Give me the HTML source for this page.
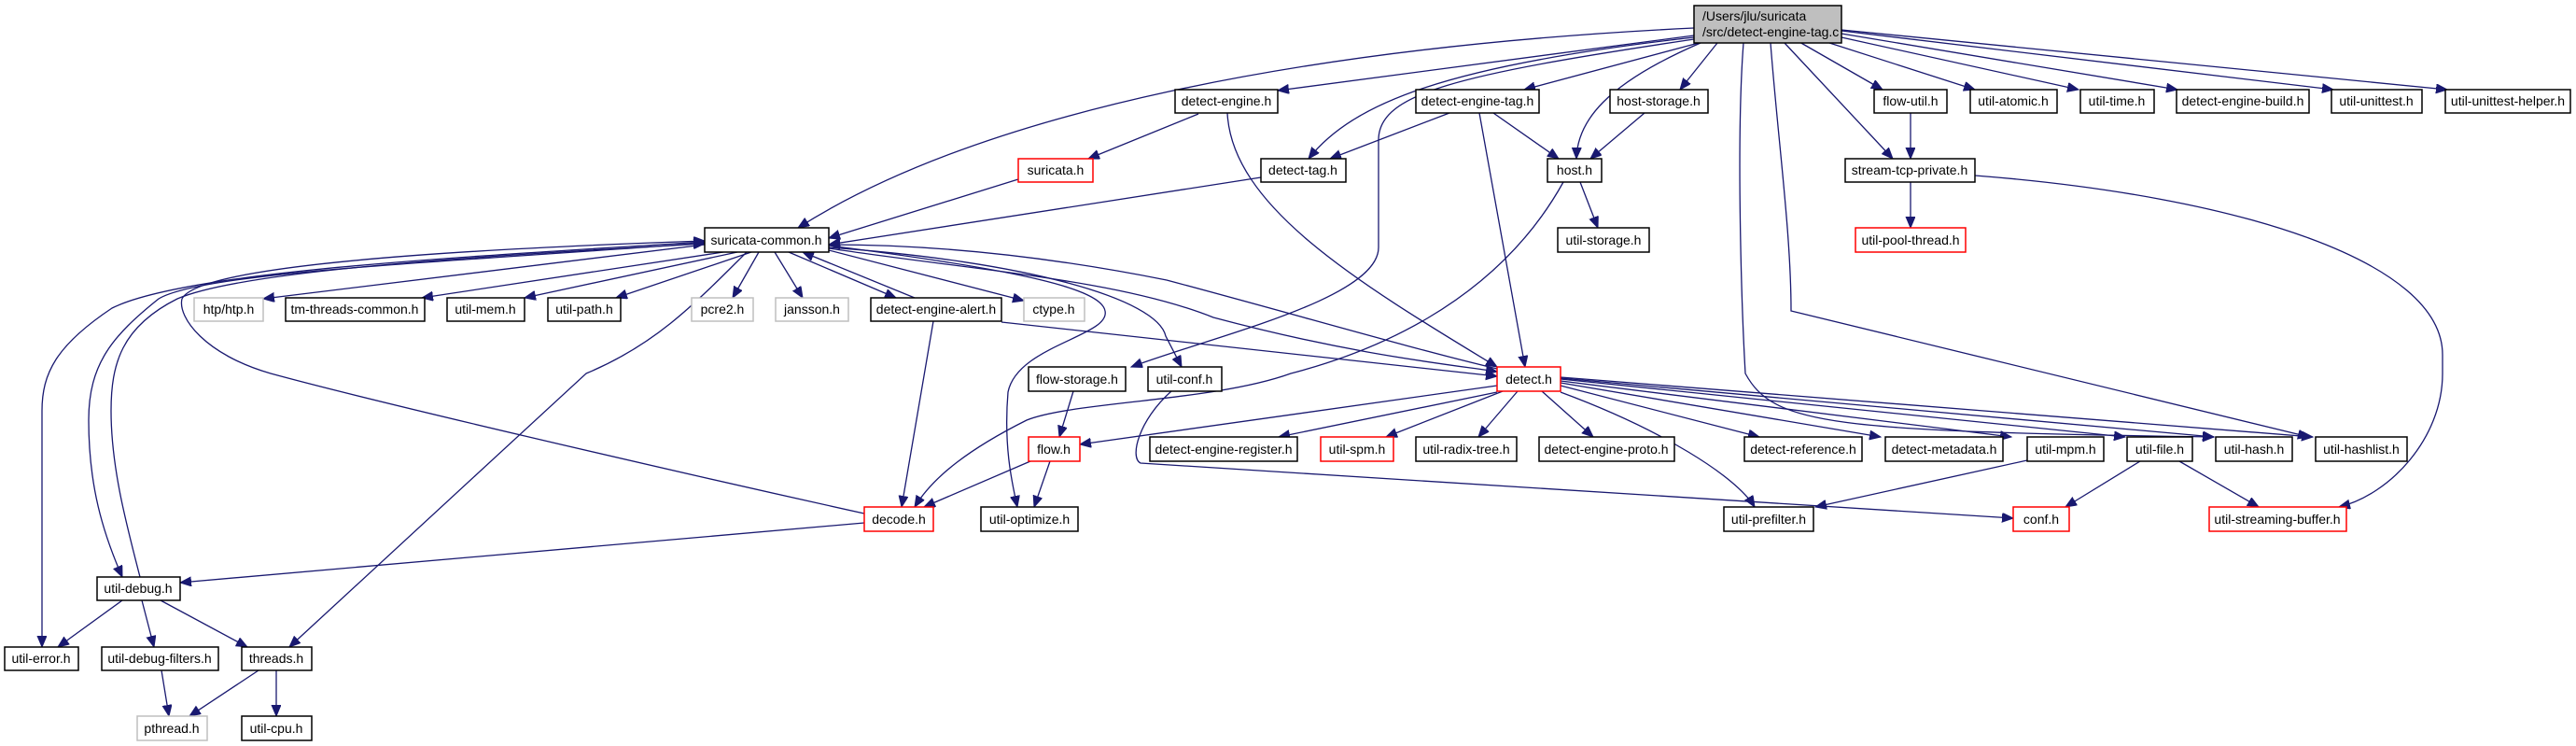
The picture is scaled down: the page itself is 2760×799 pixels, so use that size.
<!DOCTYPE html>
<html><head><meta charset="utf-8"><style>
html,body{margin:0;padding:0;background:#fff;}
svg{display:block;}
text{font-family:"Liberation Sans",sans-serif;font-size:14px;fill:#000;}
.b{fill:#fff;stroke:#000;stroke-width:1.5;}
.g{fill:#fff;stroke:#bfbfbf;stroke-width:1.5;}
.r{fill:#fff;stroke:#ff0000;stroke-width:1.5;}
.e{fill:none;stroke:#191970;stroke-width:1.3;marker-end:url(#a);}
</style></head><body>
<svg width="2760" height="799" viewBox="0 0 2760 799" xmlns="http://www.w3.org/2000/svg">
<defs><marker id="a" markerUnits="userSpaceOnUse" markerWidth="14" markerHeight="12" refX="12" refY="5" orient="auto"><path d="M0,0 L12,5 L0,10 z" fill="#191970" stroke="#191970"/></marker></defs>

<!-- edges -->
<g>
<path class="e" d="M1815,30 C1400,50 1050,120 855,244"/>
<path class="e" d="M1815,38 L1369,97"/>
<path class="e" d="M1815,40 C1550,70 1450,110 1402,170"/>
<path class="e" d="M1815,42 C1560,80 1477,100 1477,150 L1477,265 C1477,320 1300,360 1212,393"/>
<path class="e" d="M1820,46 L1633,96"/>
<path class="e" d="M1822,46 C1720,90 1690,130 1689,170"/>
<path class="e" d="M1840,46 L1800,96"/>
<path class="e" d="M1928,45 L2017,96"/>
<path class="e" d="M1957,45 L2116,96"/>
<path class="e" d="M1973,40 L2227,96"/>
<path class="e" d="M1973,36 L2333,96"/>
<path class="e" d="M1973,33 L2500,96"/>
<path class="e" d="M1973,32 L2622,96"/>
<path class="e" d="M1912,46 L2028,170"/>
<path class="e" d="M1868,46 C1860,150 1866,330 1870,400 C1900,455 1960,462 2372,468"/>
<path class="e" d="M1897,46 C1905,150 1919,250 1919,333 L2474,468"/>
<path class="e" d="M1284,122 L1166,170"/>
<path class="e" d="M1315,121 C1320,220 1450,300 1604,393"/>
<path class="e" d="M1553,121 L1425,170"/>
<path class="e" d="M1600,121 L1670,170"/>
<path class="e" d="M1585,121 L1634,393"/>
<path class="e" d="M1762,121 L1704,170"/>
<path class="e" d="M1693,195 L1712,244"/>
<path class="e" d="M1675,195 C1600,330 1460,380 1383,400 C1300,430 1150,430 1100,450 C1040,480 1000,510 980,543"/>
<path class="e" d="M1091,192 L888,255"/>
<path class="e" d="M1351,190 L888,262"/>
<path class="e" d="M755,262 L282,320"/>
<path class="e" d="M775,270 L452,319"/>
<path class="e" d="M790,270 L562,319"/>
<path class="e" d="M805,270 L660,319"/>
<path class="e" d="M813,270 L785,319"/>
<path class="e" d="M830,270 L860,319"/>
<path class="e" d="M845,270 L960,319"/>
<path class="e" d="M980,319 L860,270"/>
<path class="e" d="M888,268 L1097,322"/>
<path class="e" d="M888,266 C1050,290 1200,300 1300,340 C1450,380 1550,390 1604,398"/>
<path class="e" d="M1604,395 C1500,370 1400,340 1250,300 C1100,270 980,262 888,262"/>
<path class="e" d="M888,263 C1100,290 1180,310 1184,333 C1190,360 1090,370 1080,420 C1075,480 1085,520 1090,543"/>
<path class="e" d="M888,265 C1100,280 1240,320 1249,360 L1266,393"/>
<path class="e" d="M755,259 C500,275 200,290 120,330 C60,370 45,400 45,440 L45,693"/>
<path class="e" d="M755,260 C500,280 220,290 170,320 C120,360 95,390 95,450 C95,520 110,570 131,618"/>
<path class="e" d="M150,618 C135,560 119,500 119,440 C119,390 130,350 190,320 C260,290 500,275 755,261"/>
<path class="e" d="M926,550 C700,500 400,430 290,400 C220,380 190,340 195,320 C210,290 400,270 755,258"/>
<path class="e" d="M800,270 C740,330 700,370 628,400 L310,693"/>
<path class="e" d="M1000,344 L966,543"/>
<path class="e" d="M1073,345 L1604,403"/>
<path class="e" d="M1150,419 L1135,468"/>
<path class="e" d="M1255,419 C1220,450 1210,490 1222,496 L2157,555"/>
<path class="e" d="M1604,413 L1157,476"/>
<path class="e" d="M1604,420 L1370,468"/>
<path class="e" d="M1610,419 L1485,468"/>
<path class="e" d="M1626,419 L1584,468"/>
<path class="e" d="M1652,419 L1707,468"/>
<path class="e" d="M1672,413 L1885,468"/>
<path class="e" d="M1672,410 L2015,468"/>
<path class="e" d="M1672,408 L2155,468"/>
<path class="e" d="M1672,406 L2277,468"/>
<path class="e" d="M1672,405 L2372,468"/>
<path class="e" d="M1672,404 L2478,468"/>
<path class="e" d="M1672,420 C1780,460 1860,510 1880,543"/>
<path class="e" d="M1104,494 L990,543"/>
<path class="e" d="M1125,494 L1108,543"/>
<path class="e" d="M2172,493 L1945,543"/>
<path class="e" d="M2293,494 L2213,543"/>
<path class="e" d="M2335,494 L2420,543"/>
<path class="e" d="M2047,121 L2047,170"/>
<path class="e" d="M2047,195 L2047,244"/>
<path class="e" d="M2116,188 C2400,210 2617,280 2617,380 L2617,400 C2617,470 2560,530 2506,543"/>
<path class="e" d="M926,560 L193,624"/>
<path class="e" d="M131,643 L62,693"/>
<path class="e" d="M152,643 L165,693"/>
<path class="e" d="M172,643 L265,693"/>
<path class="e" d="M173,718 L181,767"/>
<path class="e" d="M277,718 L203,767"/>
<path class="e" d="M296,718 L296,767"/>
</g>

<!-- nodes -->
<rect x="1815" y="6" width="158" height="40" fill="#bfbfbf" stroke="#000" stroke-width="1.5"/>
<text x="1824" y="22">/Users/jlu/suricata</text>
<text x="1824" y="39">/src/detect-engine-tag.c</text>

<rect class="b" x="1259" y="96" width="110" height="25"/><text x="1314" y="113" text-anchor="middle">detect-engine.h</text>
<rect class="b" x="1517" y="96" width="132" height="25"/><text x="1583" y="113" text-anchor="middle">detect-engine-tag.h</text>
<rect class="b" x="1725" y="96" width="105" height="25"/><text x="1777" y="113" text-anchor="middle">host-storage.h</text>
<rect class="b" x="2008" y="96" width="78" height="25"/><text x="2047" y="113" text-anchor="middle">flow-util.h</text>
<rect class="b" x="2111" y="96" width="93" height="25"/><text x="2157" y="113" text-anchor="middle">util-atomic.h</text>
<rect class="b" x="2229" y="96" width="79" height="25"/><text x="2268" y="113" text-anchor="middle">util-time.h</text>
<rect class="b" x="2332" y="96" width="142" height="25"/><text x="2403" y="113" text-anchor="middle">detect-engine-build.h</text>
<rect class="b" x="2498" y="96" width="97" height="25"/><text x="2546" y="113" text-anchor="middle">util-unittest.h</text>
<rect class="b" x="2620" y="96" width="134" height="25"/><text x="2687" y="113" text-anchor="middle">util-unittest-helper.h</text>

<rect class="r" x="1091" y="170" width="80" height="25"/><text x="1131" y="187" text-anchor="middle">suricata.h</text>
<rect class="b" x="1351" y="170" width="91" height="25"/><text x="1396" y="187" text-anchor="middle">detect-tag.h</text>
<rect class="b" x="1658" y="170" width="58" height="25"/><text x="1687" y="187" text-anchor="middle">host.h</text>
<rect class="b" x="1977" y="170" width="139" height="25"/><text x="2046" y="187" text-anchor="middle">stream-tcp-private.h</text>

<rect class="b" x="755" y="244" width="133" height="26"/><text x="821" y="262" text-anchor="middle">suricata-common.h</text>
<rect class="b" x="1669" y="244" width="98" height="26"/><text x="1718" y="262" text-anchor="middle">util-storage.h</text>
<rect class="r" x="1988" y="244" width="118" height="26"/><text x="2047" y="262" text-anchor="middle">util-pool-thread.h</text>

<rect class="g" x="208" y="319" width="74" height="25"/><text x="245" y="336" text-anchor="middle">htp/htp.h</text>
<rect class="b" x="306" y="319" width="149" height="25"/><text x="380" y="336" text-anchor="middle">tm-threads-common.h</text>
<rect class="b" x="479" y="319" width="83" height="25"/><text x="520" y="336" text-anchor="middle">util-mem.h</text>
<rect class="b" x="587" y="319" width="78" height="25"/><text x="626" y="336" text-anchor="middle">util-path.h</text>
<rect class="g" x="741" y="319" width="66" height="25"/><text x="774" y="336" text-anchor="middle">pcre2.h</text>
<rect class="g" x="831" y="319" width="78" height="25"/><text x="870" y="336" text-anchor="middle">jansson.h</text>
<rect class="b" x="933" y="319" width="140" height="25"/><text x="1003" y="336" text-anchor="middle">detect-engine-alert.h</text>
<rect class="g" x="1097" y="319" width="65" height="25"/><text x="1129" y="336" text-anchor="middle">ctype.h</text>

<rect class="b" x="1102" y="393" width="104" height="26"/><text x="1154" y="411" text-anchor="middle">flow-storage.h</text>
<rect class="b" x="1230" y="393" width="79" height="26"/><text x="1269" y="411" text-anchor="middle">util-conf.h</text>
<rect class="r" x="1604" y="393" width="68" height="26"/><text x="1638" y="411" text-anchor="middle">detect.h</text>

<rect class="r" x="1102" y="468" width="55" height="26"/><text x="1129" y="486" text-anchor="middle">flow.h</text>
<rect class="b" x="1232" y="468" width="158" height="26"/><text x="1311" y="486" text-anchor="middle">detect-engine-register.h</text>
<rect class="r" x="1415" y="468" width="78" height="26"/><text x="1454" y="486" text-anchor="middle">util-spm.h</text>
<rect class="b" x="1517" y="468" width="108" height="26"/><text x="1571" y="486" text-anchor="middle">util-radix-tree.h</text>
<rect class="b" x="1649" y="468" width="145" height="26"/><text x="1721" y="486" text-anchor="middle">detect-engine-proto.h</text>
<rect class="b" x="1869" y="468" width="126" height="26"/><text x="1932" y="486" text-anchor="middle">detect-reference.h</text>
<rect class="b" x="2020" y="468" width="126" height="26"/><text x="2083" y="486" text-anchor="middle">detect-metadata.h</text>
<rect class="b" x="2172" y="468" width="82" height="26"/><text x="2213" y="486" text-anchor="middle">util-mpm.h</text>
<rect class="b" x="2279" y="468" width="70" height="26"/><text x="2314" y="486" text-anchor="middle">util-file.h</text>
<rect class="b" x="2374" y="468" width="82" height="26"/><text x="2415" y="486" text-anchor="middle">util-hash.h</text>
<rect class="b" x="2481" y="468" width="98" height="26"/><text x="2530" y="486" text-anchor="middle">util-hashlist.h</text>

<rect class="r" x="926" y="543" width="74" height="26"/><text x="963" y="561" text-anchor="middle">decode.h</text>
<rect class="b" x="1051" y="543" width="104" height="26"/><text x="1103" y="561" text-anchor="middle">util-optimize.h</text>
<rect class="b" x="1847" y="543" width="96" height="26"/><text x="1895" y="561" text-anchor="middle">util-prefilter.h</text>
<rect class="r" x="2157" y="543" width="60" height="26"/><text x="2187" y="561" text-anchor="middle">conf.h</text>
<rect class="r" x="2367" y="543" width="147" height="26"/><text x="2440" y="561" text-anchor="middle">util-streaming-buffer.h</text>

<rect class="b" x="104" y="618" width="89" height="25"/><text x="148" y="635" text-anchor="middle">util-debug.h</text>

<rect class="b" x="5" y="693" width="79" height="25"/><text x="44" y="710" text-anchor="middle">util-error.h</text>
<rect class="b" x="109" y="693" width="125" height="25"/><text x="171" y="710" text-anchor="middle">util-debug-filters.h</text>
<rect class="b" x="259" y="693" width="75" height="25"/><text x="296" y="710" text-anchor="middle">threads.h</text>

<rect class="g" x="147" y="767" width="75" height="26"/><text x="184" y="785" text-anchor="middle">pthread.h</text>
<rect class="b" x="259" y="767" width="75" height="26"/><text x="296" y="785" text-anchor="middle">util-cpu.h</text>
</svg>
</body></html>
